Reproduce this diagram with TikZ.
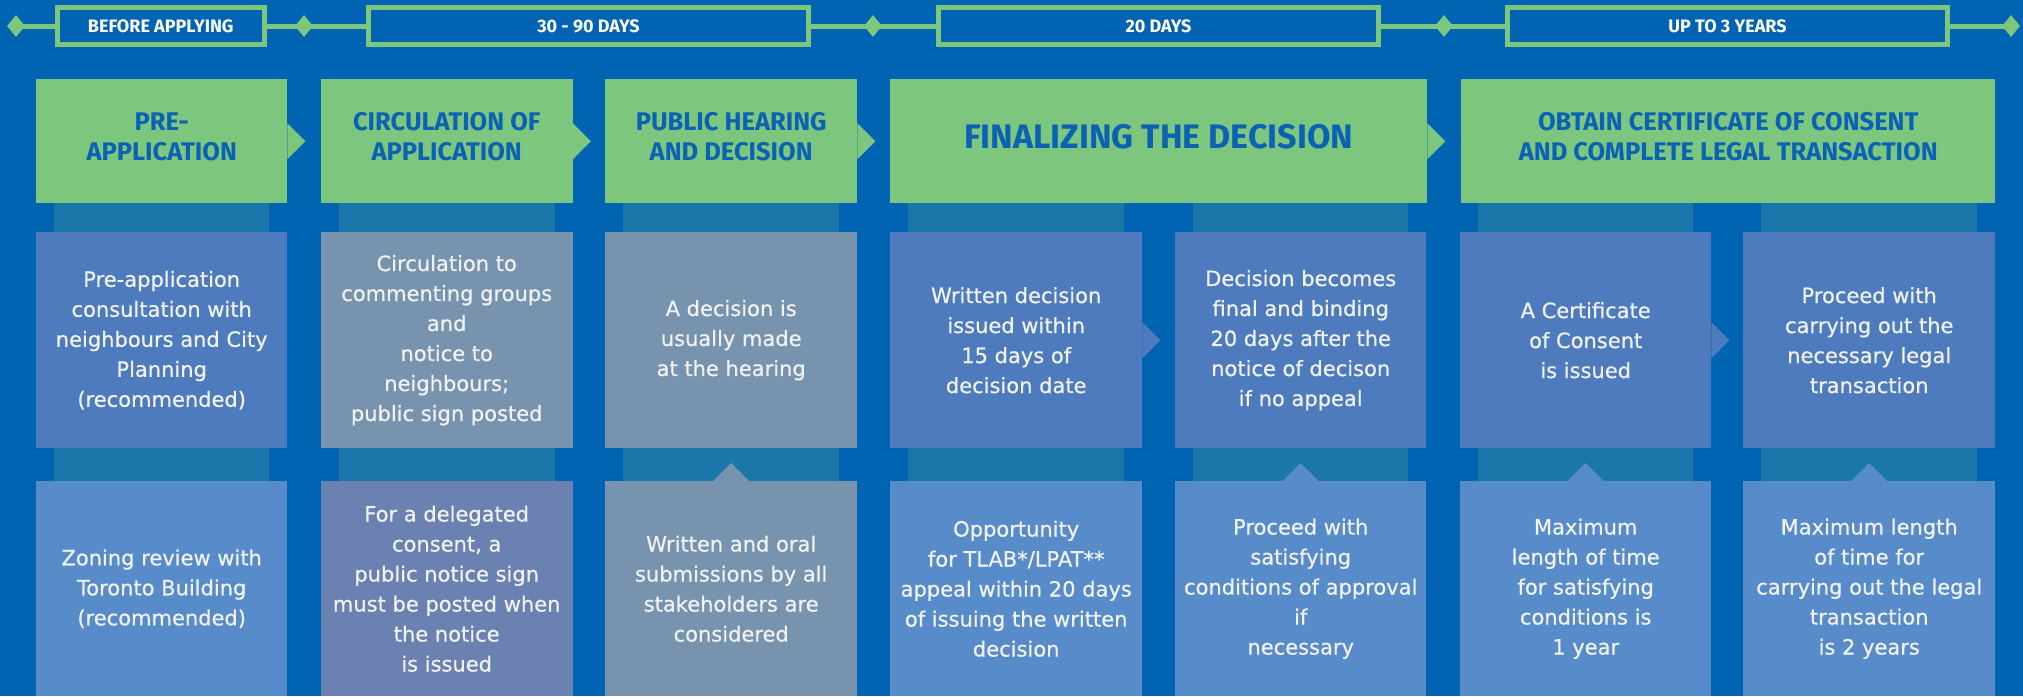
\documentclass[tikz,border=0pt]{standalone}
\usepackage{fontspec}
\setmainfont{DejaVu Sans}
\newfontfamily\stagefont{Fira Sans}
\newfontfamily\infofont[FakeBold=0.6]{DejaVu Sans}
\usetikzlibrary{shapes.geometric, backgrounds, calc}

\definecolor{bgblue}{HTML}{0064B2}
\definecolor{stagegreen}{HTML}{7CC67E}
\definecolor{stagetext}{HTML}{0B62B5}
\definecolor{stripteal}{HTML}{1B76A9}
\definecolor{infoblue}{HTML}{4E7BBD}
\definecolor{infogrey}{HTML}{7793AE}
\definecolor{infolight}{HTML}{578BCA}
\definecolor{infoviolet}{HTML}{6A81B1}
\definecolor{infotext}{HTML}{F0F2F4}

\tikzset{
    period/.style={draw=stagegreen, line width=5pt, fill=bgblue, text=white, font=\stagefont\bfseries\fontsize{18}{20}\selectfont, minimum height=37pt, inner sep=0pt},
    tick/.style={diamond, fill=stagegreen, minimum width=18pt, minimum height=22pt, inner sep=0pt},
    stage/.style={fill=stagegreen, text=stagetext, font=\stagefont\bfseries\fontsize{25.5}{30}\selectfont, align=center, anchor=north west, minimum height=124pt, inner sep=0pt, text depth=10pt},
    info/.style={fill=#1, text=infotext, font=\infofont\fontsize{21}{30}\selectfont, align=center, anchor=north west, inner sep=0pt},
    midbox/.style={info=#1, minimum height=216pt},
    lowbox/.style={info=#1, minimum height=215pt},
}

\begin{document}
\begin{tikzpicture}[x=1pt, y=-1pt]
    \useasboundingbox (0,0) rectangle (2023,696);

    \node[tick] (t0) at (16,26) {};
    \node[period, minimum width=206.5pt] (p1) at (160.75,26) {BEFORE APPLYING};
    \node[tick] (t1) at (304,26) {};
    \node[period, minimum width=440pt] (p2) at (588.5,26) {30 - 90 DAYS};
    \node[tick] (t2) at (873,26) {};
    \node[period, minimum width=440pt] (p3) at (1158.5,26) {20 DAYS};
    \node[tick] (t3) at (1444,26) {};
    \node[period, minimum width=440pt] (p4) at (1727.5,26) {UP TO 3 YEARS};
    \node[tick] (t4) at (2011,26) {};

    \node[stage, minimum width=251pt] (g1) at (36,79) {PRE-\\APPLICATION};
    \node[stage, minimum width=252pt] (g2) at (320.5,79) {CIRCULATION OF\\APPLICATION};
    \node[stage, minimum width=252pt] (g3) at (605,79) {PUBLIC HEARING\\AND DECISION};
    \node[stage, minimum width=537pt, font=\stagefont\bfseries\fontsize{34}{36}\selectfont] (g4) at (890,79) {FINALIZING THE DECISION};
    \node[stage, minimum width=534pt] (g5) at (1461,79) {OBTAIN CERTIFICATE OF CONSENT\\AND COMPLETE LEGAL TRANSACTION};

    \node[midbox=infoblue, minimum width=251pt] (b1) at (36,232) {Pre-application\\consultation with\\neighbours and City\\Planning\\(recommended)};
    \node[midbox=infogrey, minimum width=252pt] (b2) at (320.5,232) {Circulation to\\commenting groups\\and\\notice to\\neighbours;\\public sign posted};
    \node[midbox=infogrey, minimum width=252pt] (b3) at (605,232) {A decision is\\usually made\\at the hearing};
    \node[midbox=infoblue, minimum width=252pt] (b4a) at (890,232) {Written decision\\issued within\\15 days of\\decision date};
    \node[midbox=infoblue, minimum width=251pt] (b4b) at (1175,232) {Decision becomes\\final and binding\\20 days after the\\notice of decison\\if no appeal};
    \node[midbox=infoblue, minimum width=251pt] (b5a) at (1460,232) {A Certificate\\of Consent\\is issued};
    \node[midbox=infoblue, minimum width=252pt] (b5b) at (1743,232) {Proceed with\\carrying out the\\necessary legal\\transaction};

    \node[lowbox=infolight, minimum width=251pt] (c1) at (36,481) {Zoning review with\\Toronto Building\\(recommended)};
    \node[lowbox=infoviolet, minimum width=252pt] (c2) at (320.5,481) {For a delegated\\consent, a\\public notice sign\\must be posted when\\the notice\\is issued};
    \node[lowbox=infogrey, minimum width=252pt] (c3) at (605,481) {Written and oral\\submissions by all\\stakeholders are\\considered};
    \node[lowbox=infolight, minimum width=252pt] (c4a) at (890,481) {Opportunity\\for TLAB*/LPAT**\\appeal within 20 days\\of issuing the written\\decision};
    \node[lowbox=infolight, minimum width=251pt] (c4b) at (1175,481) {Proceed with\\satisfying\\conditions of approval\\if\\necessary};
    \node[lowbox=infolight, minimum width=251pt] (c5a) at (1460,481) {Maximum\\length of time\\for satisfying\\conditions is\\1 year};
    \node[lowbox=infolight, minimum width=252pt] (c5b) at (1743,481) {Maximum length\\of time for\\carrying out the legal\\transaction\\is 2 years};

    \coordinate (base) at (0,696);

    \begin{scope}[on background layer]
        \fill[bgblue] (0,0) rectangle (2023,696);
        \draw[stagegreen, line width=5pt] (t0.center) -- (t4.center);
        \foreach \n in {b1,b2,b3,b4a,b4b,b5a,b5b}
            \fill[stripteal] ($(\n.west |- g1.south)+(18,0)$) rectangle ($(\n.east |- base)+(-18,0)$);
    \end{scope}

    \foreach \n in {g1,g2,g3,g4}
        \fill[stagegreen] ([yshift=18pt]\n.east) -- ([xshift=18pt]\n.east) -- ([yshift=-18pt]\n.east) -- cycle;
    \foreach \n in {b4a,b5a}
        \fill[infoblue] ([yshift=18pt]\n.east) -- ([xshift=18pt]\n.east) -- ([yshift=-18pt]\n.east) -- cycle;
    \fill[infogrey] ([xshift=-18pt]c3.north) -- ([yshift=18pt]c3.north) -- ([xshift=18pt]c3.north) -- cycle;
    \foreach \n in {c4b,c5a,c5b}
        \fill[infolight] ([xshift=-18pt]\n.north) -- ([yshift=18pt]\n.north) -- ([xshift=18pt]\n.north) -- cycle;
\end{tikzpicture}
\end{document}
